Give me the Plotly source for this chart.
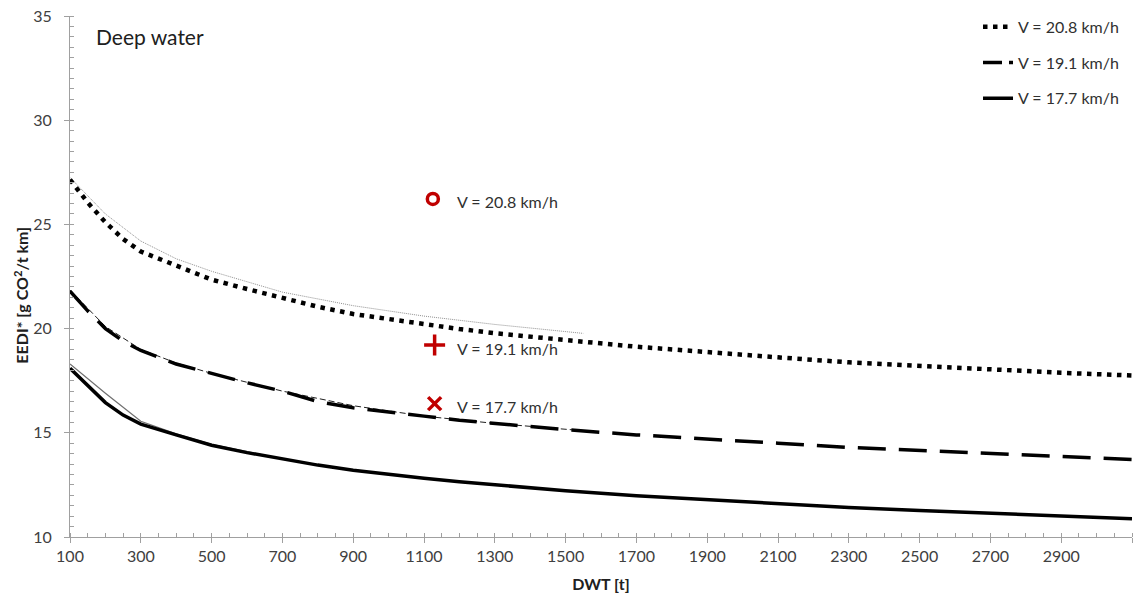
import plotly.graph_objects as go

# ---- data ----
dwt = [100, 150, 200, 250, 300, 400, 500, 600, 700, 800, 900, 1000, 1100, 1200,
       1300, 1400, 1500, 1700, 1900, 2100, 2300, 2500, 2700, 2900, 3100]
eedi_208 = [27.15, 26.05, 25.1, 24.3, 23.7, 23.0, 22.35, 21.9, 21.45, 21.05, 20.7, 20.45,
            20.2, 19.98, 19.78, 19.6, 19.45, 19.13, 18.85, 18.62, 18.38, 18.2, 18.03, 17.88, 17.75]
eedi_191 = [21.8, 20.85, 20.0, 19.4, 18.95, 18.3, 17.85, 17.4, 17.0, 16.5, 16.2, 15.98,
            15.8, 15.6, 15.45, 15.3, 15.15, 14.9, 14.68, 14.5, 14.3, 14.15, 14.0, 13.85, 13.72]
eedi_177 = [18.1, 17.3, 16.45, 15.85, 15.42, 14.9, 14.4, 14.05, 13.75, 13.45, 13.2, 13.0,
            12.82, 12.65, 12.5, 12.35, 12.22, 11.98, 11.78, 11.6, 11.42, 11.27, 11.13, 11.0, 10.88]

fit_dwt = [100, 200, 300, 400, 500, 700, 900, 1100, 1300, 1550]
fit_208 = [27.25, 25.5, 24.2, 23.35, 22.75, 21.75, 21.1, 20.6, 20.2, 19.77]
fit_191 = [21.85, 20.1, 19.0, 18.35, 17.85, 17.0, 16.3, 15.8, 15.45, 15.1]
fit_177 = [18.3, 16.9, 15.55, 14.95, 14.45, 13.75, 13.2, 12.8, 12.5, 12.15]

point_dwt = [1125, 1130, 1130]
point_eedi = [26.22, 19.21, 16.4]
point_labels = ["V = 20.8 km/h", "V = 19.1 km/h", "V = 17.7 km/h"]
series_names = ["V = 20.8 km/h", "V = 19.1 km/h", "V = 17.7 km/h"]

FONT = "Lato"
RED = "#C00000"

fig = go.Figure()

# thin fit lines (no legend)
fig.add_trace(go.Scatter(x=fit_dwt, y=fit_208, mode="lines", showlegend=False,
                         line=dict(color="#909090", width=1, dash="1px,1px"), hoverinfo="skip"))
fig.add_trace(go.Scatter(x=fit_dwt, y=fit_191, mode="lines", showlegend=False,
                         line=dict(color="#202020", width=1, dash="6px,3px"), hoverinfo="skip"))
fig.add_trace(go.Scatter(x=fit_dwt, y=fit_177, mode="lines", showlegend=False,
                         line=dict(color="#707070", width=1.2), hoverinfo="skip"))

# main curves
fig.add_trace(go.Scatter(x=dwt, y=eedi_208, mode="lines", name=series_names[0],
                         legendgroup="a", line=dict(color="black", width=4.5, dash="4.5px,5.5px")))
fig.add_trace(go.Scatter(x=dwt, y=eedi_191, mode="lines", name=series_names[1], showlegend=False,
                         legendgroup="b", line=dict(color="black", width=3.5, dash="28px,13px")))
# legend stand-in for the dashed series (shorter dash so the 30px sample reads as dashed)
fig.add_trace(go.Scatter(x=[None], y=[None], mode="lines", name=series_names[1],
                         legendgroup="b", line=dict(color="black", width=3.5, dash="19px,7px")))
fig.add_trace(go.Scatter(x=dwt, y=eedi_177, mode="lines", name=series_names[2],
                         legendgroup="c", line=dict(color="black", width=3.5)))

# red points
symbols = ["circle-open", "cross-thin-open", "x-thin-open"]
sizes = [11, 15, 13]
for i in range(3):
    fig.add_trace(go.Scatter(x=[point_dwt[i]], y=[point_eedi[i]], mode="markers", showlegend=False,
                             marker=dict(symbol=symbols[i], size=sizes[i], color=RED,
                                         line=dict(color=RED, width=3.5))))
    fig.add_annotation(x=1125, y=point_eedi[i], xref="x", yref="y", text=point_labels[i],
                       showarrow=False, xanchor="left", xshift=22, yshift=-3,
                       font=dict(family=FONT, size=16, color="#303030"))

fig.add_annotation(x=0.023, y=0.96, xref="paper", yref="paper", text="Deep water",
                   showarrow=False, xanchor="left", yanchor="middle",
                   font=dict(family=FONT, size=21, color="#202020"))

# y-axis title (placed as rotated text)
fig.add_annotation(x=-0.0455, y=0.4645, xref="paper", yref="paper",
                   text="<b>EEDI* [g CO<sup>2</sup>/t km]</b>", textangle=-90,
                   showarrow=False, xanchor="center", yanchor="middle",
                   font=dict(family=FONT, size=16, color="#202020"))

fig.update_layout(
    width=1133, height=597,
    margin=dict(l=70, r=1, t=16, b=60, autoexpand=False),
    paper_bgcolor="white", plot_bgcolor="white",
    font=dict(family=FONT, size=16, color="#404040"),
    showlegend=True,
    legend=dict(x=0.855, y=1.012, xanchor="left", yanchor="top", bgcolor="rgba(0,0,0,0)",
                font=dict(family=FONT, size=16, color="#303030"), tracegroupgap=12,
                traceorder="grouped"),
    xaxis=dict(range=[100, 3100], tick0=100, dtick=200, showgrid=False, zeroline=False,
               showline=True, linecolor="#A0A0A0", linewidth=1, automargin=False,
               ticks="outside", ticklen=5, tickcolor="#A0A0A0", ticklabelstandoff=0,
               minor=dict(dtick=50, ticks="inside", ticklen=4, tickcolor="#A0A0A0", showgrid=False),
               title=dict(text="<b>DWT [t]</b>", font=dict(family=FONT, size=16, color="#202020"),
                          standoff=14),
               tickfont=dict(family=FONT, size=16, color="#404040")),
    yaxis=dict(range=[10, 35], tick0=10, dtick=5, showgrid=False, zeroline=False,
               showline=True, linecolor="#A0A0A0", linewidth=1, automargin=False,
               ticks="outside", ticklen=5, tickcolor="#A0A0A0", ticklabelstandoff=9,
               minor=dict(dtick=0.5, ticks="inside", ticklen=4, tickcolor="#A0A0A0", showgrid=False),
               tickfont=dict(family=FONT, size=16, color="#404040")),
)

fig.write_html("out.html", config={"displayModeBar": False},
               post_script="document.body.style.margin='0';")
